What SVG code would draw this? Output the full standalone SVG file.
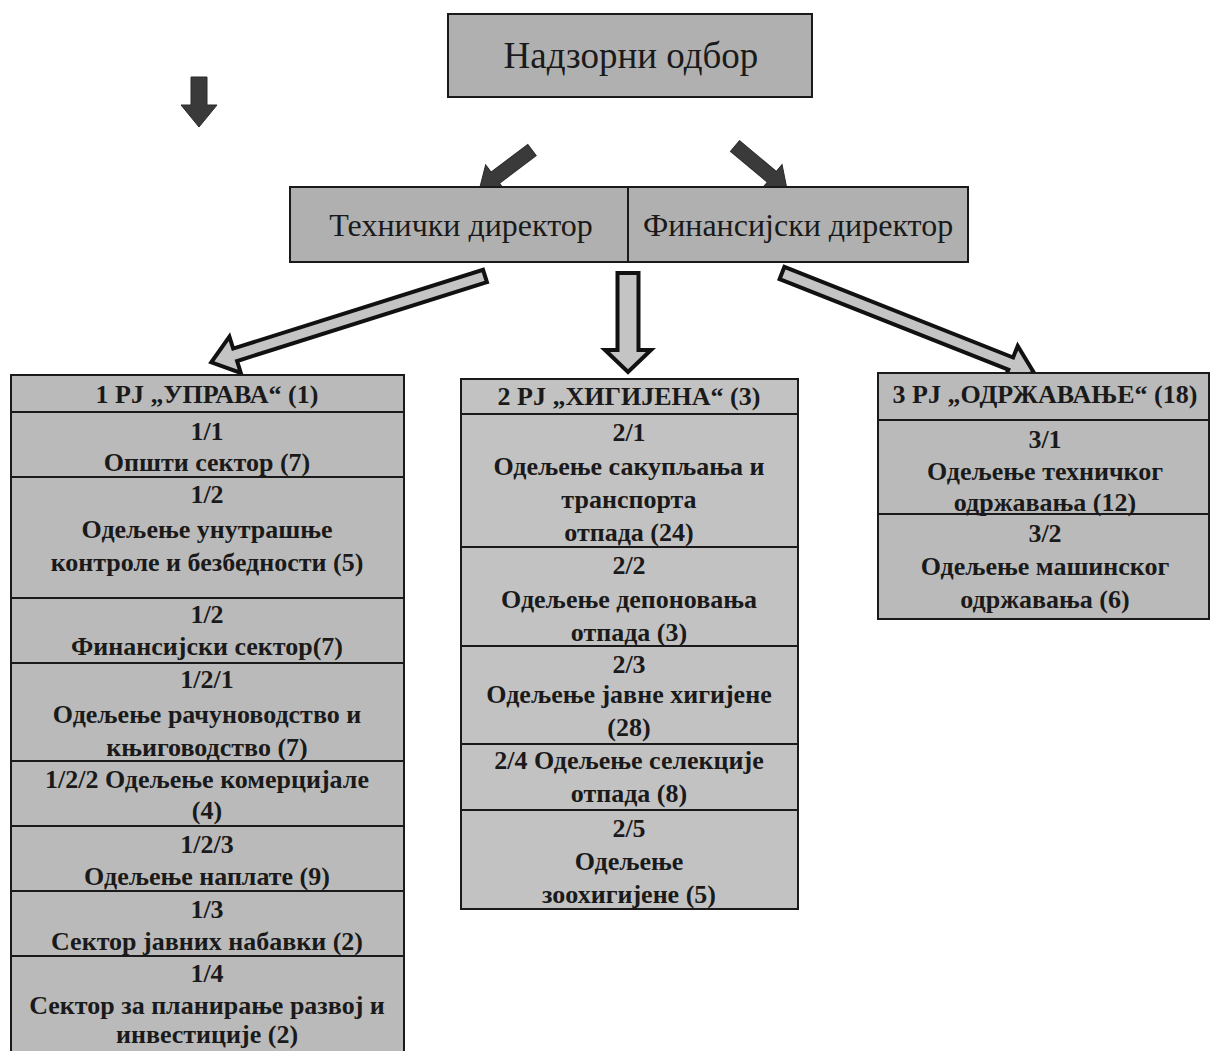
<svg xmlns="http://www.w3.org/2000/svg" width="1210" height="1051" viewBox="0 0 1210 1051">
<style>
.bx{fill:#b0b0b0;stroke:#1a1a1a;stroke-width:2}
.col{fill:#bababa;stroke:#1a1a1a;stroke-width:2}
.colm{fill:#c2c2c2;stroke:#1a1a1a;stroke-width:2}
.ln{stroke:#1a1a1a;stroke-width:2}
.big{font-family:"Liberation Serif","Times New Roman",serif;font-size:37px;fill:#1a1a1a;text-anchor:middle}
.dir{font-family:"Liberation Serif","Times New Roman",serif;font-size:32px;fill:#1a1a1a;text-anchor:middle}
.t{font-family:"Liberation Serif","Times New Roman",serif;font-size:26px;font-weight:bold;fill:#1a1a1a;text-anchor:middle}
.dark{fill:#3a3a3a;stroke:#2a2a2a;stroke-width:1}
.hol{fill:#c4c4c4;stroke:#111;stroke-width:4;stroke-linejoin:miter}
</style>
<rect width="1210" height="1051" fill="#ffffff"/>

<g id="connectors">
  <polygon class="dark" transform="translate(199,77) rotate(90)" points="0,-8 28,-8 28,-18 50,0 28,18 28,8 0,8"/>
  <polygon class="dark" transform="translate(532,150) rotate(143)" points="0,-7 46,-7 46,-16 66,0 46,16 46,7 0,7"/>
  <polygon class="dark" transform="translate(735,146) rotate(40)" points="0,-7 48,-7 48,-16 68,0 48,16 48,7 0,7"/>
  <polygon class="hol" transform="translate(485,276) rotate(162.5)" points="0,-6.5 262,-6.5 262,-19 287,0 262,19 262,6.5 0,6.5"/>
  <polygon class="hol" transform="translate(628,273) rotate(90)" points="0,-10.5 77,-10.5 77,-23 99,0 77,23 77,10.5 0,10.5"/>
  <polygon class="hol" transform="translate(782,273) rotate(21.6)" points="0,-6.5 246,-6.5 246,-19 271,0 246,19 246,6.5 0,6.5"/>
</g>

<g id="nadzorni">
  <rect class="bx" x="448" y="14" width="364" height="83"/>
  <text class="big" x="631" y="68">Надзорни одбор</text>
</g>

<g id="direktori">
  <rect class="bx" x="290" y="187" width="678" height="75"/>
  <line class="ln" x1="628" y1="187" x2="628" y2="262"/>
  <text class="dir" x="461" y="236">Технички директор</text>
  <text class="dir" x="798" y="236">Финансијски директор</text>
</g>

<g id="uprava">
  <rect class="col" x="11" y="375" width="393" height="690"/>
  <line class="ln" x1="11" y1="412" x2="404" y2="412"/>
  <line class="ln" x1="11" y1="477" x2="404" y2="477"/>
  <line class="ln" x1="11" y1="598" x2="404" y2="598"/>
  <line class="ln" x1="11" y1="663" x2="404" y2="663"/>
  <line class="ln" x1="11" y1="761" x2="404" y2="761"/>
  <line class="ln" x1="11" y1="826" x2="404" y2="826"/>
  <line class="ln" x1="11" y1="891" x2="404" y2="891"/>
  <line class="ln" x1="11" y1="956" x2="404" y2="956"/>
  <text class="t" x="207" y="403">1 PJ „УПРАВА“ (1)</text>
  <text class="t" x="207" y="440">1/1</text>
  <text class="t" x="207" y="471">Општи сектор (7)</text>
  <text class="t" x="207" y="503">1/2</text>
  <text class="t" x="207" y="538">Одељење унутрашње</text>
  <text class="t" x="207" y="571">контроле и безбедности (5)</text>
  <text class="t" x="207" y="623">1/2</text>
  <text class="t" x="207" y="655">Финансијски сектор(7)</text>
  <text class="t" x="207" y="688">1/2/1</text>
  <text class="t" x="207" y="723">Одељење рачуноводство и</text>
  <text class="t" x="207" y="756">књиговодство (7)</text>
  <text class="t" x="207" y="788">1/2/2 Одељење комерцијале</text>
  <text class="t" x="207" y="819">(4)</text>
  <text class="t" x="207" y="853">1/2/3</text>
  <text class="t" x="207" y="885">Одељење наплате (9)</text>
  <text class="t" x="207" y="918">1/3</text>
  <text class="t" x="207" y="950">Сектор јавних набавки (2)</text>
  <text class="t" x="207" y="982">1/4</text>
  <text class="t" x="207" y="1014">Сектор за планирање развој и</text>
  <text class="t" x="207" y="1043">инвестиције (2)</text>
</g>

<g id="higijena">
  <rect class="colm" x="461" y="379" width="337" height="530"/>
  <line class="ln" x1="461" y1="414" x2="798" y2="414"/>
  <line class="ln" x1="461" y1="547" x2="798" y2="547"/>
  <line class="ln" x1="461" y1="646" x2="798" y2="646"/>
  <line class="ln" x1="461" y1="744" x2="798" y2="744"/>
  <line class="ln" x1="461" y1="810" x2="798" y2="810"/>
  <text class="t" x="629" y="405">2 PJ „ХИГИЈЕНА“ (3)</text>
  <text class="t" x="629" y="441">2/1</text>
  <text class="t" x="629" y="475">Одељење сакупљања и</text>
  <text class="t" x="629" y="508">транспорта</text>
  <text class="t" x="629" y="541">отпада (24)</text>
  <text class="t" x="629" y="574">2/2</text>
  <text class="t" x="629" y="608">Одељење депоновања</text>
  <text class="t" x="629" y="641">отпада (3)</text>
  <text class="t" x="629" y="673">2/3</text>
  <text class="t" x="629" y="703">Одељење јавне хигијене</text>
  <text class="t" x="629" y="736">(28)</text>
  <text class="t" x="629" y="769">2/4 Одељење селекције</text>
  <text class="t" x="629" y="802">отпада (8)</text>
  <text class="t" x="629" y="837">2/5</text>
  <text class="t" x="629" y="870">Одељење</text>
  <text class="t" x="629" y="903">зоохигијене (5)</text>
</g>

<g id="odrzavanje">
  <rect class="col" x="878" y="373" width="331" height="246"/>
  <line class="ln" x1="878" y1="420" x2="1209" y2="420"/>
  <line class="ln" x1="878" y1="514" x2="1209" y2="514"/>
  <text class="t" x="1045" y="403">3 PJ „ОДРЖАВАЊЕ“ (18)</text>
  <text class="t" x="1045" y="448">3/1</text>
  <text class="t" x="1045" y="480">Одељење техничког</text>
  <text class="t" x="1045" y="511">одржавања (12)</text>
  <text class="t" x="1045" y="542">3/2</text>
  <text class="t" x="1045" y="575">Одељење машинског</text>
  <text class="t" x="1045" y="608">одржавања (6)</text>
</g>
</svg>
